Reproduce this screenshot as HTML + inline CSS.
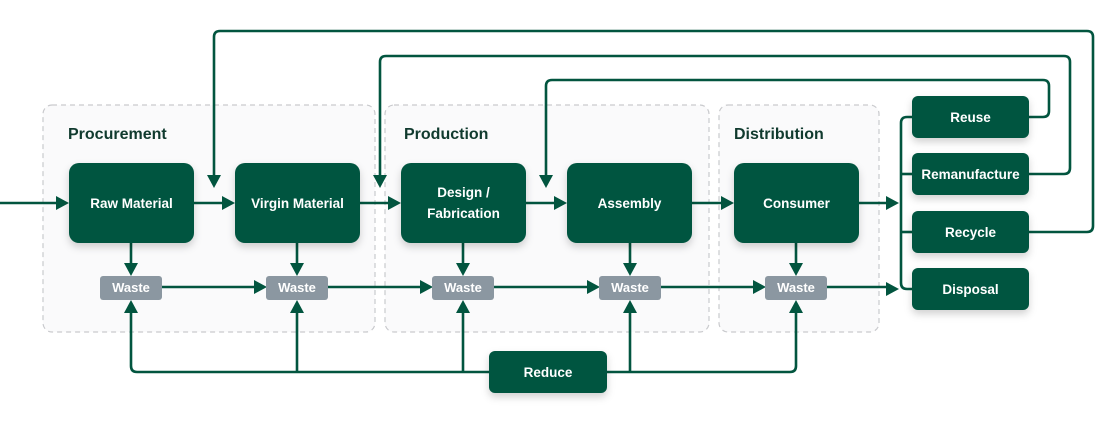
<!DOCTYPE html>
<html><head><meta charset="utf-8"><style>
html,body{margin:0;padding:0;background:#fff;}
svg{display:block;}
text{font-family:"Liberation Sans",sans-serif;}
</style></head><body>
<svg width="1120" height="427" viewBox="0 0 1120 427" xmlns="http://www.w3.org/2000/svg">
<defs>
<filter id="sh" x="-20%" y="-20%" width="140%" height="160%"><feDropShadow dx="0" dy="4" stdDeviation="4" flood-color="#000" flood-opacity="0.18"/></filter>
</defs>
<rect width="1120" height="427" fill="#fff"/>
<!-- group boxes -->
<g fill="#fafafb" stroke="#c9cacd" stroke-width="1.2" stroke-dasharray="5,4">
<rect x="43" y="105" width="332" height="227" rx="9"/>
<rect x="385" y="105" width="324" height="227" rx="9"/>
<rect x="719" y="105" width="160" height="227" rx="9"/>
</g>
<g fill="#103a2e" font-weight="bold" font-size="16">
<text x="68" y="139">Procurement</text>
<text x="404" y="139">Production</text>
<text x="734" y="139">Distribution</text>
</g>
<!-- lines -->
<g fill="none" stroke="#02553f" stroke-width="2.6" stroke-linejoin="round">
<path d="M0 203 H60"/>
<path d="M194 203 H226"/>
<path d="M360 203 H392"/>
<path d="M526 203 H558"/>
<path d="M692 203 H725"/>
<path d="M859 203 H890"/>
<path d="M131 243 V268"/><path d="M297 243 V268"/><path d="M463 243 V268"/><path d="M630 243 V268"/><path d="M796 243 V268"/>
<path d="M162 287 H258"/><path d="M328 287 H424"/><path d="M494 287 H591"/><path d="M661 287 H757"/><path d="M827 287 H890"/>
<path d="M131 308 V366 Q131 372 137 372 H790 Q796 372 796 366 V308"/>
<path d="M297 308 V372"/><path d="M463 308 V372"/><path d="M630 308 V372"/>
<path d="M912 117 H907 Q901 117 901 123 V283 Q901 289 907 289 H912"/>
<path d="M901 174 H912"/><path d="M901 232 H912"/>
<path d="M1029 117 H1043 Q1049 117 1049 111 V86 Q1049 80 1043 80 H552 Q546 80 546 86 V178"/>
<path d="M1029 174 H1064 Q1070 174 1070 168 V62 Q1070 56 1064 56 H386 Q380 56 380 62 V178"/>
<path d="M1029 232 H1087 Q1093 232 1093 226 V37 Q1093 31 1087 31 H220 Q214 31 214 37 V178"/>
</g>
<!-- arrowheads -->
<g fill="#02553f">
<path d="M69 203 l-13 -7 v14z"/>
<path d="M235 203 l-13 -7 v14z"/>
<path d="M401 203 l-13 -7 v14z"/>
<path d="M567 203 l-13 -7 v14z"/>
<path d="M734 203 l-13 -7 v14z"/>
<path d="M899 203 l-13 -7 v14z"/>
<path d="M899 289 l-13 -7 v14z"/>
<path d="M267 287 l-13 -7 v14z"/><path d="M433 287 l-13 -7 v14z"/><path d="M600 287 l-13 -7 v14z"/><path d="M766 287 l-13 -7 v14z"/>
<path d="M131 276 l-7 -13 h14z"/><path d="M297 276 l-7 -13 h14z"/><path d="M463 276 l-7 -13 h14z"/><path d="M630 276 l-7 -13 h14z"/><path d="M796 276 l-7 -13 h14z"/>
<path d="M131 300 l-7 13 h14z"/><path d="M297 300 l-7 13 h14z"/><path d="M463 300 l-7 13 h14z"/><path d="M630 300 l-7 13 h14z"/><path d="M796 300 l-7 13 h14z"/>
<path d="M214 188 l-7 -13 h14z"/><path d="M380 188 l-7 -13 h14z"/><path d="M546 188 l-7 -13 h14z"/>
</g>
<!-- main nodes -->
<g fill="#02553f" filter="url(#sh)">
<rect x="69" y="163" width="125" height="80" rx="10"/>
<rect x="235" y="163" width="125" height="80" rx="10"/>
<rect x="401" y="163" width="125" height="80" rx="10"/>
<rect x="567" y="163" width="125" height="80" rx="10"/>
<rect x="734" y="163" width="125" height="80" rx="10"/>
<rect x="489" y="351" width="118" height="42" rx="6"/>
<rect x="912" y="96" width="117" height="42" rx="6"/>
<rect x="912" y="153" width="117" height="42" rx="6"/>
<rect x="912" y="211" width="117" height="42" rx="6"/>
<rect x="912" y="268" width="117" height="42" rx="6"/>
</g>
<g fill="#8b97a1">
<rect x="100" y="276" width="62" height="24" rx="3"/>
<rect x="266" y="276" width="62" height="24" rx="3"/>
<rect x="432" y="276" width="62" height="24" rx="3"/>
<rect x="599" y="276" width="62" height="24" rx="3"/>
<rect x="765" y="276" width="62" height="24" rx="3"/>
</g>
<g fill="#fff" font-weight="bold" font-size="13.5" text-anchor="middle">
<text x="131.5" y="208">Raw Material</text>
<text x="297.5" y="208">Virgin Material</text>
<text x="463.5" y="197">Design /</text>
<text x="463.5" y="218">Fabrication</text>
<text x="629.5" y="208">Assembly</text>
<text x="796.5" y="208">Consumer</text>
<text x="548" y="377">Reduce</text>
<text x="970.5" y="122">Reuse</text>
<text x="970.5" y="179">Remanufacture</text>
<text x="970.5" y="237">Recycle</text>
<text x="970.5" y="294">Disposal</text>
</g>
<g fill="#fff" font-weight="bold" font-size="13" text-anchor="middle">
<text x="131" y="292">Waste</text>
<text x="297" y="292">Waste</text>
<text x="463" y="292">Waste</text>
<text x="630" y="292">Waste</text>
<text x="796" y="292">Waste</text>
</g>
</svg>
</body></html>
